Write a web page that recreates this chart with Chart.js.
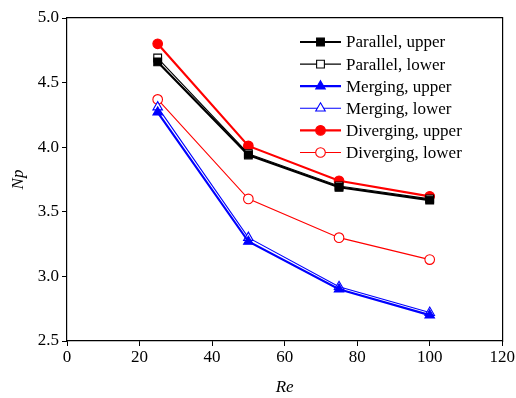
<!DOCTYPE html>
<html>
<head>
<meta charset="utf-8">
<script src="https://cdn.jsdelivr.net/npm/chart.js@4/dist/chart.umd.min.js"></script>
<style>
  html, body { margin: 0; padding: 0; background: #fff; }
  #wrap { width: 516px; height: 398px; }
</style>
</head>
<body>
<div id="wrap"><canvas id="npChart" width="516" height="398"></canvas></div>
<script>
const reValues = [25, 50, 75, 100];
const xTicks = [0, 20, 40, 60, 80, 100, 120];
const yTicks = [2.5, 3.0, 3.5, 4.0, 4.5, 5.0];

const parallelUpper = [4.66, 3.94, 3.69, 3.59];
const parallelLower = [4.69, 3.95, 3.70, 3.60];
const mergingUpper = [4.27, 3.27, 2.90, 2.70];
const mergingLower = [4.31, 3.30, 2.92, 2.72];
const divergingUpper = [4.80, 4.01, 3.74, 3.62];
const divergingLower = [4.37, 3.60, 3.30, 3.13];

const serif = '"Liberation Serif", "Times New Roman", serif';

function toPoints(vals) {
  return vals.map((v, i) => ({ x: reValues[i], y: v }));
}

function series(label, vals, color, style, filled, thick) {
  return {
    label: label,
    data: toPoints(vals),
    borderColor: color,
    backgroundColor: filled ? color : '#fff',
    pointBackgroundColor: filled ? color : '#fff',
    pointBorderColor: color,
    pointStyle: style,
    pointRadius: style === 'triangle' ? 5.5 : style === 'rect' ? 5.5 : 4.8,
    pointBorderWidth: 1.1,
    borderWidth: thick ? 2.2 : 1.1,
    tension: 0,
  };
}

const datasets = [
  series('Parallel, upper', parallelUpper, '#000000', 'rect', true, true),
  series('Parallel, lower', parallelLower, '#000000', 'rect', false, false),
  series('Merging, upper', mergingUpper, '#0000ff', 'triangle', true, true),
  series('Merging, lower', mergingLower, '#0000ff', 'triangle', false, false),
  series('Diverging, upper', divergingUpper, '#ff0000', 'circle', true, true),
  series('Diverging, lower', divergingLower, '#ff0000', 'circle', false, false),
];

// legend drawn inside the plot area, upper right
const innerLegend = {
  id: 'innerLegend',
  afterDraw(chart) {
    const ctx = chart.ctx;
    const x0 = 300, lineLen = 41, y0 = 42, rowH = 22.1;
    ctx.save();
    chart.data.datasets.forEach((ds, i) => {
      const y = y0 + i * rowH;
      ctx.strokeStyle = ds.borderColor;
      ctx.lineWidth = ds.borderWidth;
      ctx.beginPath();
      ctx.moveTo(x0, y);
      ctx.lineTo(x0 + lineLen, y);
      ctx.stroke();
      ctx.fillStyle = ds.pointBackgroundColor;
      ctx.strokeStyle = ds.pointBorderColor;
      ctx.lineWidth = ds.pointBorderWidth;
      Chart.helpers.drawPoint(ctx, {
        pointStyle: ds.pointStyle,
        radius: ds.pointRadius,
        rotation: 0,
        borderWidth: ds.pointBorderWidth,
      }, x0 + lineLen / 2, y);
      ctx.fillStyle = '#000';
      ctx.font = '17px ' + serif;
      ctx.textBaseline = 'middle';
      ctx.textAlign = 'left';
      ctx.fillText(ds.label, x0 + lineLen + 5, y + 1);
    });
    ctx.restore();
  },
};

new Chart(document.getElementById('npChart'), {
  type: 'line',
  data: { datasets: datasets },
  options: {
    responsive: false,
    animation: false,
    layout: { padding: { top: 18, right: 13, left: 0, bottom: 0 } },
    plugins: { legend: { display: false }, tooltip: { enabled: false } },
    scales: {
      x: {
        type: 'linear',
        min: 0,
        max: 120,
        afterBuildTicks: (s) => { s.ticks = xTicks.map((v) => ({ value: v })); },
        afterFit: (s) => { s.height = 57; },
        grid: { drawOnChartArea: false, tickLength: 5, color: '#000' },
        border: { color: '#000', width: 1.2 },
        ticks: { color: '#000', font: { family: serif, size: 17 }, padding: 1, maxRotation: 0 },
        title: {
          display: true,
          text: 'Re',
          color: '#000',
          font: { family: serif, size: 17, style: 'italic' },
          padding: { top: 14, bottom: 0 },
        },
      },
      y: {
        min: 2.5,
        max: 5.0,
        afterBuildTicks: (s) => { s.ticks = yTicks.map((v) => ({ value: v })); },
        afterFit: (s) => { s.width = 67; },
        grid: { drawOnChartArea: false, tickLength: 5, color: '#000' },
        border: { color: '#000', width: 1.2 },
        ticks: {
          color: '#000',
          font: { family: serif, size: 17 },
          padding: 3,
          callback: (v) => v.toFixed(1),
        },
        title: {
          display: true,
          text: 'Np',
          color: '#000',
          font: { family: serif, size: 17, style: 'italic' },
          padding: { top: 8, bottom: 0 },
        },
      },
      xTop: {
        type: 'linear',
        position: 'top',
        min: 0,
        max: 120,
        afterFit: (s) => { s.height = 0; },
        grid: { display: false },
        border: { color: '#000', width: 1.2 },
        ticks: { display: false },
      },
      yRight: {
        position: 'right',
        min: 2.5,
        max: 5.0,
        afterFit: (s) => { s.width = 0; },
        grid: { display: false },
        border: { color: '#000', width: 1.2 },
        ticks: { display: false },
      },
    },
  },
  plugins: [innerLegend],
});
</script>
</body>
</html>
